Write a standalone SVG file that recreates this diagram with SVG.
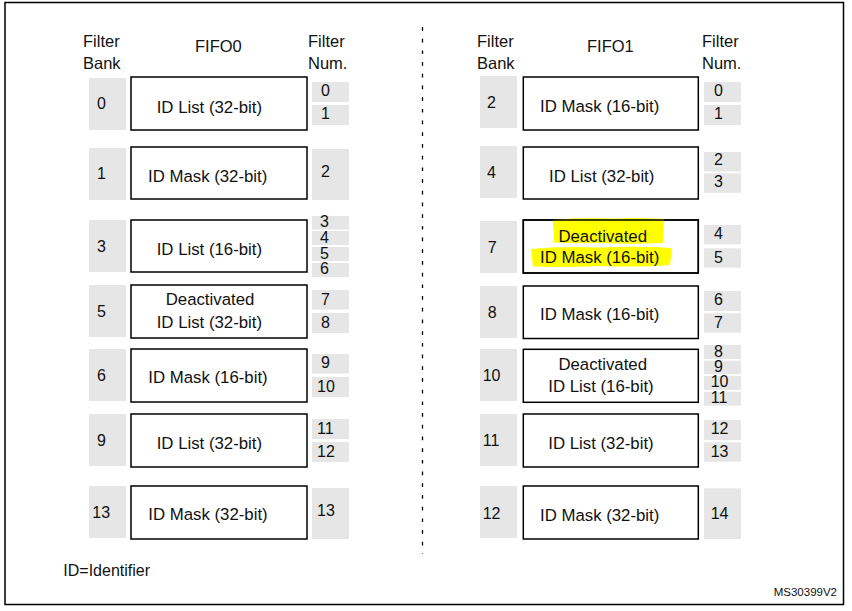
<svg xmlns="http://www.w3.org/2000/svg" width="852" height="611" viewBox="0 0 852 611">
<style>
text{font-family:"Liberation Sans",Arial,sans-serif;fill:#111;}
.t{font-size:16.5px;}
.l{font-size:16.8px;}
.n{font-size:16px;}
.s{font-size:16px;}
.c{text-anchor:middle;}
.bank{fill:#e6e6e6;}
.num{fill:#e6e6e6;}
.box{fill:#fff;stroke:#000;stroke-width:1.5;}
.frame{fill:none;stroke:#000;stroke-width:1.5;}
.hl{fill:#ffff00;}
</style>
<rect x="0" y="0" width="852" height="611" fill="#fff"/>
<rect class="frame" x="5" y="2.5" width="838.5" height="602"/>

<g id="headers">
<text class="t" x="83" y="47">Filter</text>
<text class="t" x="83" y="69">Bank</text>
<text class="t" x="195" y="52">FIFO0</text>
<text class="t" x="308" y="47">Filter</text>
<text class="t" x="308" y="69">Num.</text>
<text class="t" x="477" y="47">Filter</text>
<text class="t" x="477" y="69">Bank</text>
<text class="t" x="587" y="52">FIFO1</text>
<text class="t" x="702" y="47">Filter</text>
<text class="t" x="702" y="69">Num.</text>
</g>

<g id="divider">
<line x1="422.5" y1="27" x2="422.5" y2="554" stroke="#000" stroke-width="1.3" stroke-dasharray="3.7 8"/>
</g>
<g id="connectors"></g>

<!-- Left column -->
<g id="L1">
<rect class="bank" x="89" y="78" width="37" height="52"/>
<text class="n" x="97" y="109">0</text>
<rect class="box" x="131" y="77" width="176" height="53"/>
<text class="l" x="156.7" y="113">ID List (32-bit)</text>
<rect class="num" x="312" y="82" width="37" height="20"/>
<rect class="num" x="312" y="105" width="37" height="20"/>
<text class="n" x="321" y="96">0</text>
<text class="n" x="321" y="119">1</text>
</g>
<g id="L2">
<rect class="bank" x="89" y="148" width="37" height="52"/>
<text class="n" x="97" y="179">1</text>
<rect class="box" x="131" y="147" width="176" height="52"/>
<text class="l" x="148" y="182">ID Mask (32-bit)</text>
<rect class="num" x="312" y="149" width="37" height="51"/>
<text class="n" x="321" y="177">2</text>
</g>
<g id="L3">
<rect class="bank" x="89" y="220" width="37" height="52"/>
<text class="n" x="97" y="252">3</text>
<rect class="box" x="131" y="220" width="176" height="52"/>
<text class="l" x="156.7" y="255">ID List (16-bit)</text>
<rect class="num" x="312" y="216" width="37" height="13.5"/>
<rect class="num" x="312" y="231" width="37" height="14"/>
<rect class="num" x="312" y="247" width="37" height="14"/>
<rect class="num" x="312" y="263" width="37" height="14"/>
<text class="s" x="320" y="227">3</text>
<text class="s" x="320" y="243">4</text>
<text class="s" x="320" y="258.5">5</text>
<text class="s" x="320" y="274">6</text>
</g>
<g id="L4">
<rect class="bank" x="89" y="285" width="37" height="52"/>
<text class="n" x="97" y="317">5</text>
<rect class="box" x="131" y="285" width="176" height="53"/>
<text class="l c" x="210" y="305">Deactivated</text>
<text class="l" x="156.7" y="328">ID List (32-bit)</text>
<rect class="num" x="312" y="290" width="37" height="19.5"/>
<rect class="num" x="312" y="313" width="37" height="20"/>
<text class="n" x="321" y="304.5">7</text>
<text class="n" x="321" y="328">8</text>
</g>
<g id="L5">
<rect class="bank" x="89" y="349" width="37" height="52"/>
<text class="n" x="97" y="381">6</text>
<rect class="box" x="131" y="349" width="176" height="53"/>
<text class="l" x="148.3" y="383">ID Mask (16-bit)</text>
<rect class="num" x="312" y="354" width="37" height="19.5"/>
<rect class="num" x="312" y="377" width="37" height="20"/>
<text class="n" x="321" y="367.5">9</text>
<text class="n" x="317" y="392">10</text>
</g>
<g id="L6">
<rect class="bank" x="89" y="414" width="37" height="52"/>
<text class="n" x="97" y="446">9</text>
<rect class="box" x="131" y="414" width="176" height="53"/>
<text class="l" x="156.7" y="449">ID List (32-bit)</text>
<rect class="num" x="312" y="419" width="37" height="20"/>
<rect class="num" x="312" y="442" width="37" height="20"/>
<text class="n" x="317" y="434">11</text>
<text class="n" x="317" y="457">12</text>
</g>
<g id="L7">
<rect class="bank" x="89" y="486" width="37" height="52"/>
<text class="n" x="92.3" y="517.5">13</text>
<rect class="box" x="131" y="486" width="176" height="53"/>
<text class="l" x="148.3" y="520">ID Mask (32-bit)</text>
<rect class="num" x="312" y="488" width="37" height="51"/>
<text class="n" x="317" y="516">13</text>
</g>

<!-- Right column -->
<g id="R1">
<rect class="bank" x="480" y="76" width="37" height="52"/>
<text class="n" x="487" y="107.5">2</text>
<rect class="box" x="523.3" y="77" width="175" height="53"/>
<text class="l" x="540" y="112">ID Mask (16-bit)</text>
<rect class="num" x="704" y="82" width="37" height="20"/>
<rect class="num" x="704" y="105" width="37" height="20"/>
<text class="n" x="714" y="96">0</text>
<text class="n" x="714" y="119">1</text>
</g>
<g id="R2">
<rect class="bank" x="480" y="146" width="37" height="52"/>
<text class="n" x="487" y="177.5">4</text>
<rect class="box" x="523.3" y="147" width="175" height="52"/>
<text class="l" x="549" y="182">ID List (32-bit)</text>
<rect class="num" x="704" y="152" width="37" height="19.5"/>
<rect class="num" x="704" y="173.3" width="37" height="19.5"/>
<text class="n" x="714" y="165">2</text>
<text class="n" x="714" y="187">3</text>
</g>
<g id="R3">
<rect class="bank" x="480" y="221" width="37" height="52"/>
<text class="n" x="487.7" y="252.5">7</text>
<rect class="box" x="523.3" y="220" width="175" height="53"/>
<path class="hl" d="M553,220 Q580,217 610,218.5 Q640,217.5 664,219 L663,243 Q630,244.5 600,243 Q575,243.5 554,242.5 Z"/>
<path class="hl" d="M531,249 Q560,246 600,247.5 Q640,246 672,248 L670,265 Q640,267.5 600,266 Q560,267.5 533,266.5 Z"/>
<rect x="523.3" y="220" width="175" height="53" fill="none" stroke="#000" stroke-width="1.5"/>
<text class="l c" x="602.7" y="242">Deactivated</text>
<text class="l" x="540" y="263">ID Mask (16-bit)</text>
<rect class="num" x="704" y="225" width="37" height="19.3"/>
<rect class="num" x="704" y="248.3" width="37" height="19.4"/>
<text class="n" x="714" y="239">4</text>
<text class="n" x="714" y="262.5">5</text>
</g>
<g id="R4">
<rect class="bank" x="480" y="286" width="37" height="52"/>
<text class="n" x="487.7" y="318">8</text>
<rect class="box" x="523.3" y="286" width="175" height="52.5"/>
<text class="l" x="540" y="319.5">ID Mask (16-bit)</text>
<rect class="num" x="704" y="291" width="37" height="20"/>
<rect class="num" x="704" y="313.3" width="37" height="19.4"/>
<text class="n" x="714" y="305">6</text>
<text class="n" x="714" y="328">7</text>
</g>
<g id="R5">
<rect class="bank" x="480" y="349" width="37" height="52"/>
<text class="n" x="482.7" y="381">10</text>
<rect class="box" x="523.3" y="349.3" width="175" height="53"/>
<text class="l c" x="602.7" y="369.5">Deactivated</text>
<text class="l" x="548.3" y="392">ID List (16-bit)</text>
<rect class="num" x="704" y="345" width="37" height="14"/>
<rect class="num" x="704" y="360.7" width="37" height="13.5"/>
<rect class="num" x="704" y="376" width="37" height="14"/>
<rect class="num" x="704" y="391.7" width="37" height="14"/>
<text class="s" x="714" y="357">8</text>
<text class="s" x="714" y="372">9</text>
<text class="s" x="710.7" y="387">10</text>
<text class="s" x="710.7" y="402.5">11</text>
</g>
<g id="R6">
<rect class="bank" x="480" y="414" width="37" height="52"/>
<text class="n" x="482.7" y="446">11</text>
<rect class="box" x="523.3" y="414" width="175" height="53"/>
<text class="l" x="548.3" y="449">ID List (32-bit)</text>
<rect class="num" x="704" y="420" width="37" height="20"/>
<rect class="num" x="704" y="442.3" width="37" height="19.4"/>
<text class="n" x="710.7" y="434">12</text>
<text class="n" x="710.7" y="457">13</text>
</g>
<g id="R7">
<rect class="bank" x="480" y="486" width="37" height="52"/>
<text class="n" x="482.7" y="518.5">12</text>
<rect class="box" x="523.3" y="486" width="175" height="53"/>
<text class="l" x="540" y="521">ID Mask (32-bit)</text>
<rect class="num" x="704" y="488.3" width="37" height="50.7"/>
<text class="n" x="710.7" y="518.5">14</text>
</g>

<g id="notes">
<text x="63.3" y="576" style="font-size:16px">ID=Identifier</text>
<text x="837" y="596" style="font-size:11.5px;text-anchor:end">MS30399V2</text>
</g>
</svg>
